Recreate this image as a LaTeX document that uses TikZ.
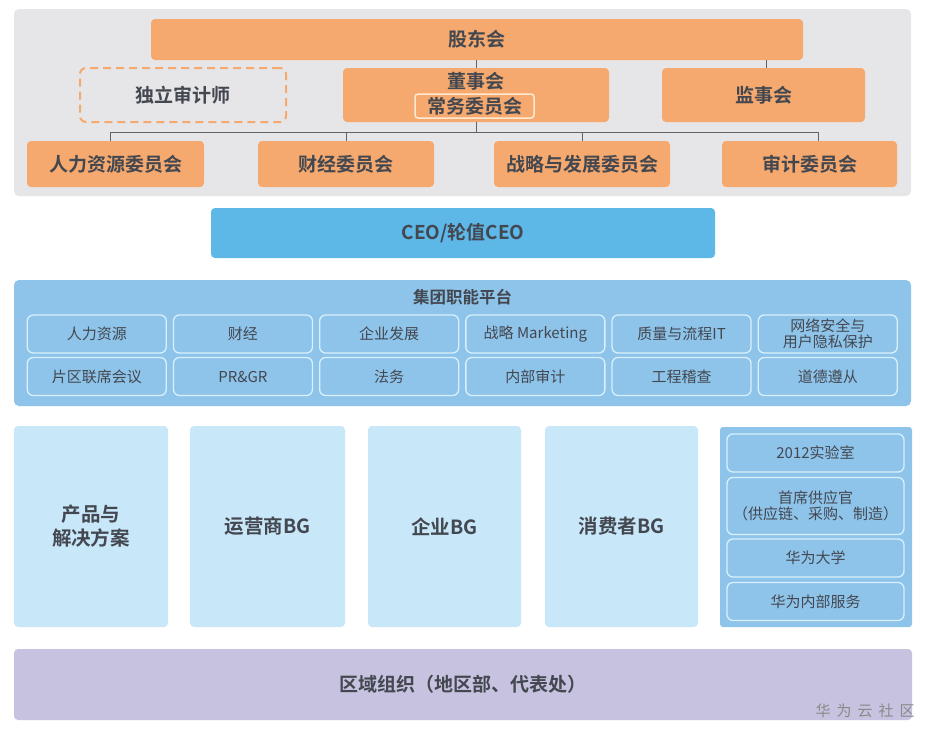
\documentclass[tikz,border=0pt]{standalone}
\usepackage{fontspec}
\setmainfont{Noto Sans CJK SC}[BoldFont={Noto Sans CJK SC Bold}]
\definecolor{panelgrey}{HTML}{E6E6E8}
\definecolor{orangebox}{HTML}{F5A96E}
\definecolor{ceoblue}{HTML}{5DB8E8}
\definecolor{platblue}{HTML}{8EC4EA}
\definecolor{subline}{HTML}{D8F0FB}
\definecolor{bgblue}{HTML}{C8E7F8}
\definecolor{lavender}{HTML}{C6C2DF}
\definecolor{txt}{HTML}{434750}
\definecolor{cream}{HTML}{FDE8D2}
\definecolor{wmgrey}{HTML}{8A8A8A}
\begin{document}
\begin{tikzpicture}[x=1pt,y=-1pt,
  base/.style={inner sep=0pt,outer sep=0pt,rounded corners=4pt,text=txt,align=center},
  obox/.style={base,fill=orangebox,font=\fontsize{19}{22}\selectfont\bfseries},
  panel/.style={base,rounded corners=5pt},
  subbox/.style={base,fill=platblue,draw=subline,line width=1.3pt,rounded corners=6pt,
     font=\fontsize{15}{16}\selectfont},
  bgbox/.style={base,fill=bgblue,font=\fontsize{19.5}{24}\selectfont\bfseries},
  conn/.style={draw=txt!85,line width=0.8pt}]
\useasboundingbox (0,0) rectangle (932,736);
\fill[white] (0,0) rectangle (932,736);
% governance panel
\node[panel,fill=panelgrey,minimum width=897pt,minimum height=187pt] (gov) at (462.5,102.5) {};
\node[obox,minimum width=652pt,minimum height=41pt] (gd) at (477,39.5) {股东会};
\node[base,draw=orangebox,dashed,dash pattern=on 8pt off 5pt,line width=2pt,rounded corners=6pt,
  minimum width=206pt,minimum height=54pt,font=\fontsize{19}{22}\selectfont\bfseries] (aud) at (183,95) {独立审计师};
\node[obox,minimum width=266pt,minimum height=54pt] (board) at (476,95) {};
\node[obox,font=\fontsize{19}{22}\selectfont\bfseries] (boardt) at (476,81) {董事会};
\node[base,draw=cream,line width=1.5pt,rounded corners=3pt,minimum width=119pt,minimum height=24pt,
  font=\fontsize{19}{22}\selectfont\bfseries] (exec) at (474.5,106) {常务委员会};
\node[obox,minimum width=203pt,minimum height=54pt] (sup) at (763.5,95) {监事会};
\node[obox,minimum width=177pt,minimum height=46pt] (c1) at (115.5,164) {人力资源委员会};
\node[obox,minimum width=176pt,minimum height=46pt] (c2) at (346,164) {财经委员会};
\node[obox,minimum width=176pt,minimum height=46pt] (c3) at (582,164) {战略与发展委员会};
\node[obox,minimum width=175pt,minimum height=46pt] (c4) at (809.5,164) {审计委员会};
\coordinate (bus) at (476,132);
\coordinate (j1) at (110,132);
\coordinate (j2) at (346,132);
\coordinate (j3) at (582,132);
\coordinate (j4) at (818,132);
\coordinate (gs) at (766,60);
\draw[conn] (gd.south -| board.north) -- (board.north);
\draw[conn] (gs) -- (gs |- sup.north);
\draw[conn] (board.south) -- (bus);
\draw[conn] (j1) -- (j4);
\draw[conn] (j1) -- (j1 |- c1.north);
\draw[conn] (j2) -- (j2 |- c2.north);
\draw[conn] (j3) -- (j3 |- c3.north);
\draw[conn] (j4) -- (j4 |- c4.north);
% CEO
\node[base,fill=ceoblue,minimum width=504pt,minimum height=50pt,font=\fontsize{19}{22}\selectfont\bfseries] (ceo) at (463,233) {CEO/轮值CEO};
% platform
\node[panel,fill=platblue,minimum width=897pt,minimum height=126pt] (plat) at (462.5,343) {};
\node[base,font=\fontsize{16.5}{20}\selectfont\bfseries] (platt) at (462.5,297.5) {集团职能平台};
\node[subbox,minimum width=139pt,minimum height=38pt] (p11) at (96.75,334) {人力资源};
\node[subbox,minimum width=139pt,minimum height=38pt] (p12) at (242.95,334) {财经};
\node[subbox,minimum width=139pt,minimum height=38pt] (p13) at (389.15,334) {企业发展};
\node[subbox,minimum width=139pt,minimum height=38pt] (p14) at (535.35,334) {战略 Marketing};
\node[subbox,minimum width=139pt,minimum height=38pt] (p15) at (681.55,334) {质量与流程IT};
\node[subbox,minimum width=139pt,minimum height=38pt] (p16) at (827.75,334) {网络安全与\\用户隐私保护};
\node[subbox,minimum width=139pt,minimum height=38pt] (p21) at (96.75,376.5) {片区联席会议};
\node[subbox,minimum width=139pt,minimum height=38pt] (p22) at (242.95,376.5) {PR\&GR};
\node[subbox,minimum width=139pt,minimum height=38pt] (p23) at (389.15,376.5) {法务};
\node[subbox,minimum width=139pt,minimum height=38pt] (p24) at (535.35,376.5) {内部审计};
\node[subbox,minimum width=139pt,minimum height=38pt] (p25) at (681.55,376.5) {工程稽查};
\node[subbox,minimum width=139pt,minimum height=38pt] (p26) at (827.75,376.5) {道德遵从};
% BGs
\node[bgbox,minimum width=154pt,minimum height=201pt] (bg1) at (91,526.5) {产品与\\解决方案};
\node[bgbox,minimum width=155pt,minimum height=201pt] (bg2) at (267.5,526.5) {运营商BG};
\node[bgbox,minimum width=153pt,minimum height=201pt] (bg3) at (444.5,526.5) {企业BG};
\node[bgbox,minimum width=153pt,minimum height=201pt] (bg4) at (621.5,526.5) {消费者BG};
\node[panel,fill=platblue,rounded corners=3pt,minimum width=192pt,minimum height=200pt] (side) at (816,527) {};
\node[subbox,minimum width=177pt,minimum height=38pt] (s1) at (815.5,453) {2012实验室};
\node[subbox,minimum width=177pt,minimum height=57pt] (s2) at (815.5,506) {首席供应官\\（供应链、采购、制造）};
\node[subbox,minimum width=177pt,minimum height=38pt] (s3) at (815.5,558) {华为大学};
\node[subbox,minimum width=177pt,minimum height=38pt] (s4) at (815.5,601.5) {华为内部服务};
% regional
\node[base,fill=lavender,minimum width=898pt,minimum height=71pt,font=\fontsize{19}{22}\selectfont\bfseries] (reg) at (463,684.5) {区域组织（地区部、代表处）};
\node[inner sep=0pt,text=wmgrey,font=\fontsize{15}{16}\selectfont] (wm) at (865,711) {华\hspace{6pt}为\hspace{6pt}云\hspace{6pt}社\hspace{6pt}区};
\end{tikzpicture}
\end{document}
